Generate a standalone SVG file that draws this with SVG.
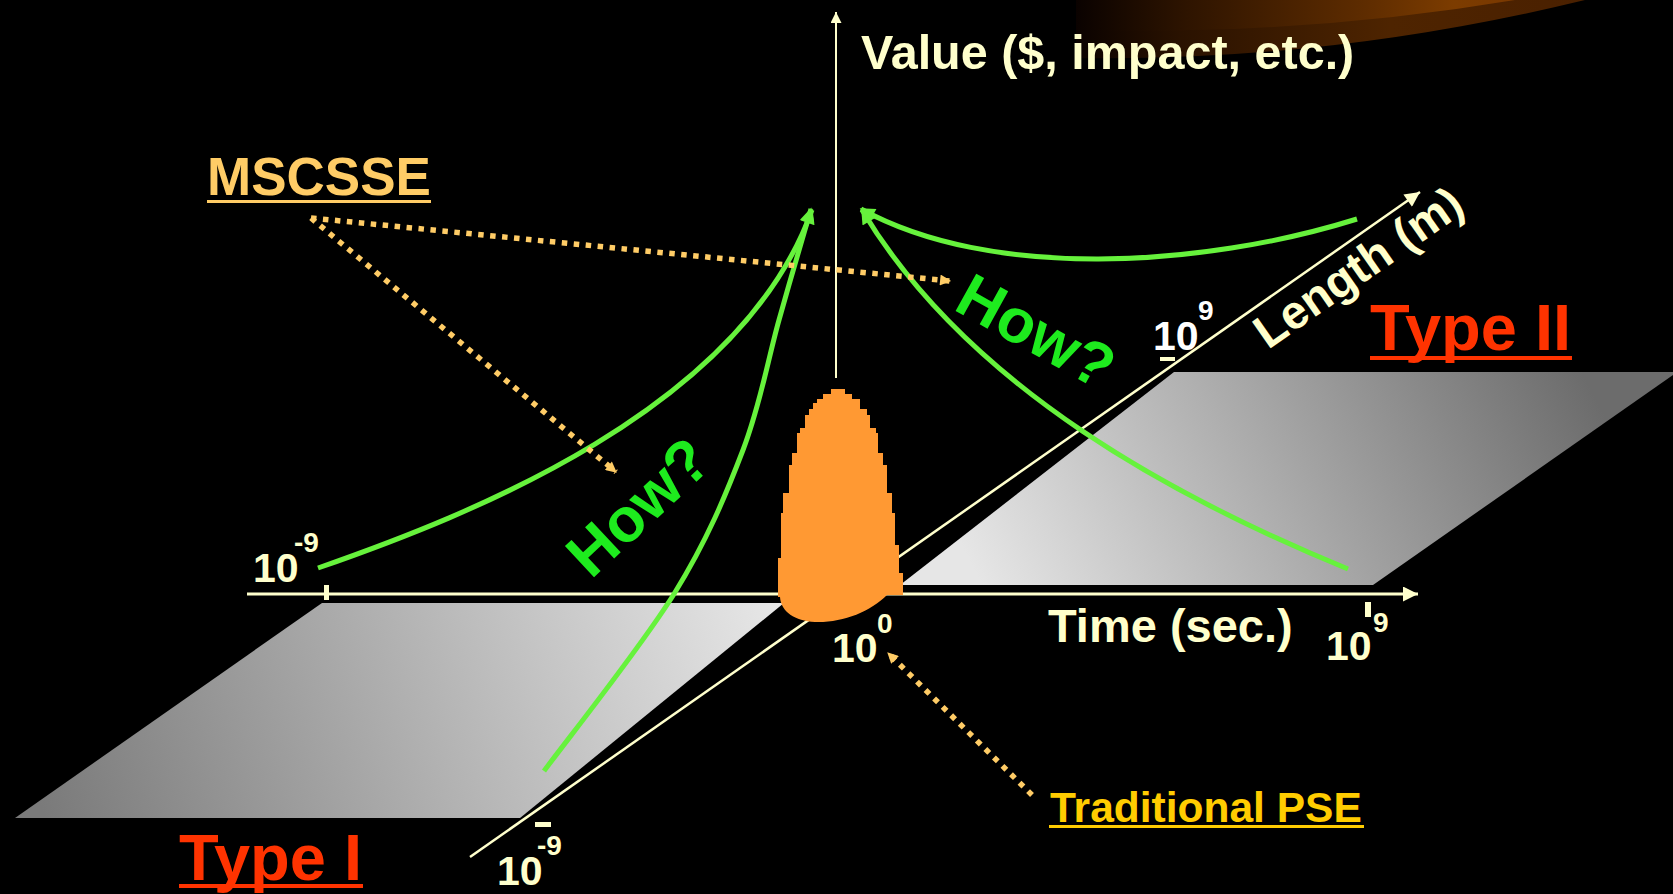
<svg xmlns="http://www.w3.org/2000/svg" width="1673" height="894" viewBox="0 0 1673 894">
<defs>
<style>
text{font-family:"Liberation Sans",Arial,sans-serif;font-weight:bold}
.axis{stroke:#FFFFCC;fill:none}
.cream{fill:#FFFFCC}
.green{stroke:#66F23C;stroke-width:5;fill:none;marker-end:url(#ga)}
.dot{stroke:#FFCC66;stroke-width:5.5;stroke-dasharray:5.5 6.5;fill:none;marker-end:url(#oa)}
.how{fill:#1EEB1E;font-size:62px}
.big{font-size:47px;fill:#FFFFCC}
.ten{font-size:41px;fill:#FFFFCC}
.sup{font-size:28px;fill:#FFFFCC}
.type{font-size:65px;fill:#FF3300}
</style>
<linearGradient id="lp" gradientUnits="userSpaceOnUse" x1="784" y1="603" x2="60" y2="860">
<stop offset="0" stop-color="#e8e8e8"/><stop offset="1" stop-color="#7a7a7a"/>
</linearGradient>
<linearGradient id="rp" gradientUnits="userSpaceOnUse" x1="1560" y1="330" x2="1000" y2="620">
<stop offset="0" stop-color="#6c6c6c"/><stop offset="1" stop-color="#e6e6e6"/>
</linearGradient>
<linearGradient id="bgo" gradientUnits="userSpaceOnUse" x1="1076" y1="0" x2="1600" y2="0">
<stop offset="0" stop-color="#0a0200"/><stop offset="0.2" stop-color="#2a1200"/><stop offset="0.6" stop-color="#4e2400"/><stop offset="1" stop-color="#4a2000"/>
</linearGradient>
<linearGradient id="bgi" gradientUnits="userSpaceOnUse" x1="1076" y1="0" x2="1520" y2="0">
<stop offset="0" stop-color="#0a0200"/><stop offset="0.25" stop-color="#2e1400"/><stop offset="0.65" stop-color="#5e2c00"/><stop offset="0.85" stop-color="#7c3c00"/><stop offset="1" stop-color="#7a3800"/>
</linearGradient>
<marker id="ga" markerUnits="userSpaceOnUse" viewBox="0 0 10 10" refX="9" refY="5" markerWidth="18" markerHeight="15" orient="auto">
<path d="M0,0 L10,5 L0,10 z" fill="#66F23C"/>
</marker>
<marker id="oa" markerUnits="userSpaceOnUse" viewBox="0 0 10 10" refX="9" refY="5" markerWidth="13" markerHeight="11" orient="auto">
<path d="M0,0 L10,5 L0,10 z" fill="#FFCC66"/>
</marker>
<marker id="xa" markerUnits="userSpaceOnUse" viewBox="0 0 10 10" refX="10" refY="5" markerWidth="17" markerHeight="15" orient="auto">
<path d="M0,0 L10,5 L0,10 z" fill="#FFFFCC"/>
</marker>
<marker id="va" markerUnits="userSpaceOnUse" viewBox="0 0 10 10" refX="10" refY="5" markerWidth="16" markerHeight="11" orient="auto">
<path d="M0,0 L10,5 L0,10 z" fill="#FFFFCC"/>
</marker>
</defs>
<rect width="1673" height="894" fill="#000"/>
<g id="background-arc">
<path d="M1076,0 V58 Q1330,62 1585,0 Z" fill="url(#bgo)"/>
<path d="M1076,0 V30 Q1300,36 1515,0 Z" fill="url(#bgi)"/>
</g>
<g id="plane-type1"><path d="M322,603 L784,603 L520,818 L15,818 Z" fill="url(#lp)"/></g>
<g id="plane-type2"><path d="M1174,372 L1673,372 L1673,375 L1373,585 L900,585 Z" fill="url(#rp)"/></g>
<g id="axes">
<line class="axis" x1="247" y1="594" x2="1418" y2="594" stroke-width="3" marker-end="url(#xa)"/>
<line class="axis" x1="470" y1="857" x2="1420" y2="192" stroke-width="2.5" marker-end="url(#xa)"/>
<line class="axis" x1="836" y1="378" x2="836" y2="12" stroke-width="2" marker-end="url(#va)"/>
<rect class="cream" x="324" y="585" width="5" height="15"/>
<rect class="cream" x="1365" y="602" width="6" height="15"/>
<rect class="cream" x="535" y="822" width="16" height="5"/>
<rect class="cream" x="1160" y="357" width="15" height="4"/>
</g>
<g id="traditional-pse-peak">
<path d="M778,597 V558 H781 V513 H783 V493 H789 V465 H792 V453 H797 V433 H800 V428 H805 V415 H809 V409 H813 V403 H817 V399 H823 V394 H831 V389 H845 V394 H852 V399 H860 V409 H867 V415 H870 V428 H876 V433 H878 V453 H883 V465 H887 V493 H892 V513 H895 V545 H899 V573 H903 V595 H887 C870,612 842,623 815,622 C795,621 781,612 780,597 Z" fill="#FF9933"/>
</g>
<g id="connectors">
<path class="green" d="M318,568 C470,515 740,410 812,210"/>
<path class="green" d="M544,771 C565.7,741.5 640.8,647.5 674,594 C707.2,540.5 725.5,495.7 743,450 C760.5,404.3 767.7,360.3 779,320 C790.3,279.7 805.7,226.7 811,209"/>
<path class="green" d="M1348,569 C1180,500 970,390 862,210"/>
<path class="green" d="M1357,219 C1200,268 990,280 861,209"/>
<line class="dot" x1="311" y1="218" x2="950" y2="281"/>
<line class="dot" x1="311" y1="218" x2="616" y2="472"/>
<line class="dot" x1="1032" y1="795" x2="888" y2="653"/>
</g>
<g id="label-value"><text class="big" x="861" y="69" font-size="48" style="font-size:48.5px">Value ($, impact, etc.)</text></g>
<g id="label-time"><text class="big" x="1048" y="642">Time (sec.)</text></g>
<g id="label-length"><text class="big" transform="translate(1268,350) rotate(-35)">Length (m)</text></g>
<g id="label-mscsse">
<text x="207" y="195" font-size="53" fill="#FFCC66">MSCSSE</text>
<rect x="207" y="200" width="224" height="3" fill="#FFCC66"/>
</g>
<g id="label-traditional-pse">
<text x="1050" y="822" font-size="42.5" fill="#FFCC00">Traditional PSE</text>
<rect x="1049" y="825" width="315" height="3" fill="#FFCC00"/>
</g>
<g id="label-type1">
<text class="type" x="179" y="880">Type I</text>
<rect x="179" y="884" width="184" height="4" fill="#FF3300"/>
</g>
<g id="label-type2">
<text class="type" x="1370" y="350">Type II</text>
<rect x="1370" y="356" width="202" height="4" fill="#FF3300"/>
</g>
<g id="label-how1"><text class="how" transform="translate(591,580) rotate(-43)">How?</text></g>
<g id="label-how2"><text class="how" transform="translate(952,309) rotate(29)">How?</text></g>
<g id="tick-labels">
<text class="ten" x="253" y="582">10</text><text class="sup" x="294" y="552">-9</text>
<text class="ten" x="832" y="662">10</text><text class="sup" x="877" y="633">0</text>
<text class="ten" x="1326" y="660">10</text><text class="sup" x="1373" y="632">9</text>
<text class="ten" x="497" y="885">10</text><text class="sup" x="537" y="855">-9</text>
<text class="ten" x="1153" y="350" style="fill:#FFFFFF">10</text><text class="sup" x="1198" y="320" style="fill:#FFFFFF">9</text>
</g>
</svg>
